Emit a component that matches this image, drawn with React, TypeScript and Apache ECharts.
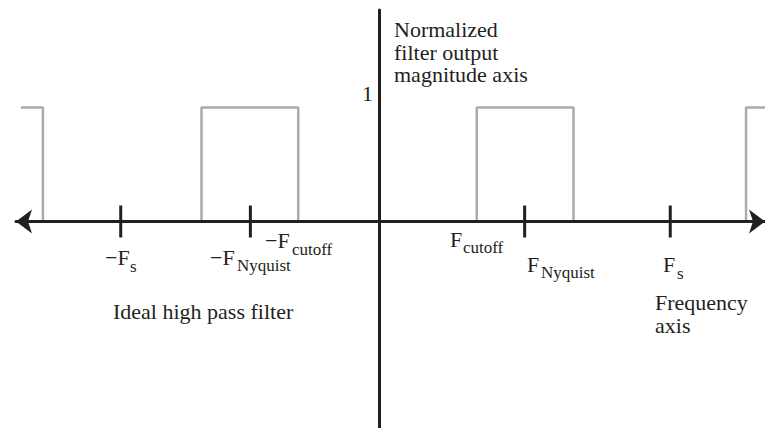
import React, { useEffect, useRef } from "react";
import * as echarts from "echarts";

// Frequency positions (in drawing units, origin at 0 Hz) of the ideal high-pass magnitude response
const filterFreq = [-359, -337, -337, -178, -178, -81, -81, 98, 98, 195, 195, 368, 368, 387];
const filterMag = [1, 1, 0, 0, 1, 1, 0, 0, 1, 1, 0, 0, 1, 1];
// Tick marks on the frequency axis: -Fs, -FNyquist, FNyquist, Fs
const tickFreq = [-259, -129, 146, 292];
const magnitudeTickLabel = "1";

const INK = "#231f20";
const GRAY = "#ababab";
const FONT = "Liberation Serif";

function txt(text: string, x: number, y: number, size: number, extra: any = {}) {
  return {
    type: "text",
    x,
    y,
    silent: true,
    style: {
      text,
      fill: INK,
      fontFamily: FONT,
      fontSize: size,
      align: "left",
      verticalAlign: "middle",
      ...extra,
    },
  };
}

export default function App() {
  const ref = useRef<HTMLDivElement>(null);
  useEffect(() => {
    if (!ref.current) return;
    const chart = echarts.init(ref.current, undefined, { renderer: "svg" });
    const M = 22;
    const S = 17;
    const mo = M * 0.3375;
    const so = S * 0.3375;
    chart.setOption({
      animation: false,
      backgroundColor: "#ffffff",
      textStyle: { fontFamily: FONT },
      grid: { left: 16, width: 751, top: 10, bottom: 0, containLabel: false },
      xAxis: {
        type: "value",
        min: -364,
        max: 387,
        z: 10,
        axisLine: {
          show: true,
          onZero: true,
          symbol: ["arrow", "arrow"],
          symbolSize: [18, 16],
          lineStyle: { color: INK, width: 3 },
        },
        axisTick: { show: false },
        axisLabel: { show: false },
        splitLine: { show: false },
      },
      yAxis: {
        type: "value",
        min: -1.811,
        max: 1.855,
        z: 10,
        axisLine: { show: true, onZero: true, lineStyle: { color: INK, width: 3 } },
        axisTick: { show: false },
        axisLabel: { show: false },
        splitLine: { show: false },
      },
      series: [
        {
          type: "line",
          z: 1,
          silent: true,
          symbol: "none",
          data: filterFreq.map((f, i) => [f, filterMag[i]]),
          lineStyle: { color: GRAY, width: 2.5 },
        },
        {
          type: "scatter",
          z: 12,
          silent: true,
          symbol: "rect",
          symbolSize: [3, 32],
          itemStyle: { color: INK, opacity: 1 },
          data: tickFreq.map((f) => [f, 0]),
        },
      ],
      graphic: [
        txt(magnitudeTickLabel, 362, 101 - mo, M),
        txt("Normalized\nfilter output\nmagnitude axis", 394, 52.1, M, { lineHeight: 22.5 }),
        txt("\u2212F", 105, 265 - mo, M),
        txt("s", 130, 272 - so, S),
        txt("\u2212F", 210, 265 - mo, M),
        txt("Nyquist", 237, 271 - so, S),
        txt("\u2212F", 265, 248 - mo, M),
        txt("cutoff", 292, 255 - so, S),
        txt("F", 450, 247 - mo, M),
        txt("cutoff", 463, 253 - so, S),
        txt("F", 527, 272 - mo, M),
        txt("Nyquist", 541, 278 - so, S),
        txt("F", 663, 272 - mo, M),
        txt("s", 677, 279 - so, S),
        txt("Ideal high pass filter", 113, 319 - mo, M),
        txt("Frequency\naxis", 655, 321.5 - mo, M, { lineHeight: 23 }),
      ],
    });
    return () => chart.dispose();
  }, []);
  return (
    <div
      ref={ref}
      style={{ position: "fixed", left: 0, top: 0, width: 765, height: 428, background: "#fff" }}
    />
  );
}
